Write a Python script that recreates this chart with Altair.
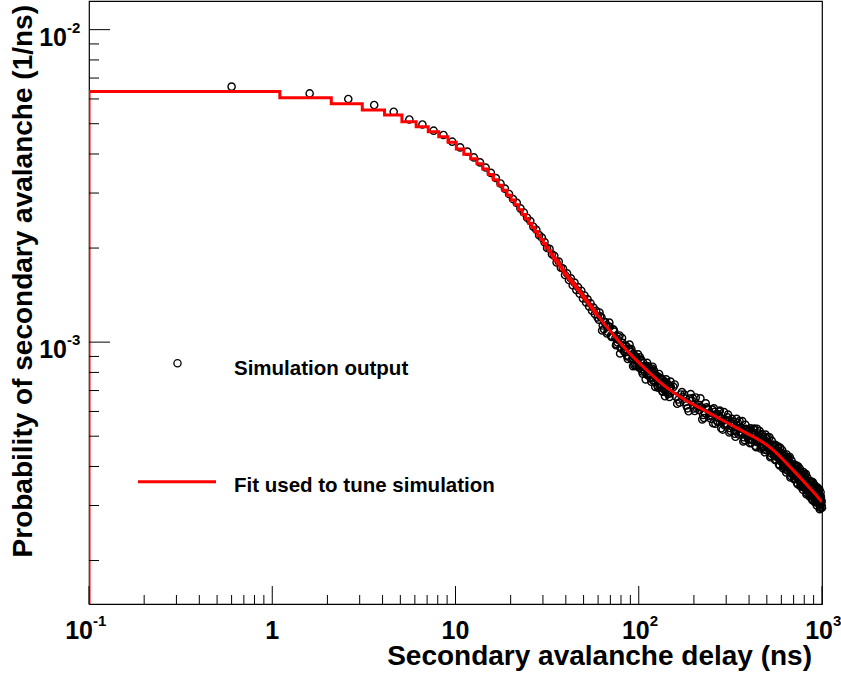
import altair as alt
import pandas as pd

# ---------------- data (probabilities in units of 1e-4 per ns) ----------------
sim_x = [0.6, 1.6, 2.6, 3.6, 4.6, 5.6, 6.6, 7.6, 8.6, 9.6,
         10.6, 11.6, 12.6, 13.6, 14.6, 15.6, 16.6, 17.6, 18.6, 19.6,
         20.6, 21.6, 22.6, 23.6, 24.6, 25.6, 26.6, 27.6, 28.6, 29.6,
         30.6, 31.6, 32.6, 33.6, 34.6, 35.6, 36.6, 37.6, 38.6, 39.6,
         40.6, 41.6, 42.6, 43.6, 44.6, 45.6, 46.6, 47.6, 48.6, 49.6,
         50.6, 51.6, 52.6, 53.6, 54.6, 55.6, 56.6, 57.6, 58.6, 59.6,
         61.6, 63.6, 65.6, 67.6, 69.6, 71.6, 73.6, 75.6, 77.6, 79.6,
         81.6, 83.6, 85.6, 87.6, 89.6, 91.6, 93.6, 95.6, 97.6, 99.6,
         101.6, 103.6, 105.6, 107.6, 109.6, 111.6, 113.6, 115.6, 117.6, 119.6,
         121.6, 123.6, 125.6, 127.6, 129.6, 131.6, 133.6, 135.6, 137.6, 139.6,
         141.6, 143.6, 145.6, 147.6, 149.6,
         154.6, 164.6, 174.6, 184.6, 194.6, 204.6, 214.6, 224.6, 234.6, 244.6,
         254.6, 264.6, 274.6, 284.6, 294.6, 304.6, 314.6, 324.6, 334.6, 344.6,
         354.6, 364.6, 374.6, 384.6, 394.6, 404.6, 414.6, 424.6, 434.6, 444.6,
         454.6, 464.6, 474.6, 484.6, 494.6, 504.6, 514.6, 524.6, 534.6, 544.6,
         554.6, 564.6, 574.6, 584.6, 594.6, 604.6, 614.6, 624.6, 634.6, 644.6,
         654.6, 664.6, 674.6, 684.6, 694.6, 704.6, 714.6, 724.6, 734.6, 744.6,
         754.6, 764.6, 774.6, 784.6, 794.6, 804.6, 814.6, 824.6, 834.6, 844.6,
         854.6, 864.6, 874.6, 884.6, 894.6, 904.6, 914.6, 924.6, 934.6, 944.6,
         954.6, 964.6, 974.6, 984.6, 994.6, 999.6]
sim_y = [65.7, 62.5, 60.0, 57.4, 54.6, 51.6, 49.7, 47.5, 46.0, 43.8,
         42.0, 40.7, 39.0, 37.6, 36.2, 34.8, 33.5, 32.2, 31.0, 29.8,
         28.7, 27.9, 26.8, 26.0, 25.0, 24.4, 23.4, 22.9, 22.0, 21.6,
         20.9, 20.0, 19.9, 19.1, 18.9, 18.0, 18.1, 17.3, 17.2, 16.4,
         16.6, 15.8, 16.0, 15.2, 15.5, 14.7, 15.0, 14.3, 14.6, 13.8,
         14.1, 13.4, 13.7, 13.0, 13.3, 12.6, 12.9, 12.3, 12.6, 12.0,
         12.1, 11.3, 11.6, 10.8, 11.2, 10.4, 10.8, 9.85, 10.4, 9.6,
         9.95, 9.3, 9.7, 9.05, 9.45, 8.8, 9.2, 8.55, 8.95, 8.4,
         8.95, 8.2, 8.6, 8.05, 8.4, 7.85, 8.25, 7.7, 8.1, 7.55,
         7.95, 7.45, 7.8, 7.15, 7.7, 7.2, 7.6, 7.1, 7.5, 7.0,
         7.4, 6.9, 7.3, 6.85, 7.2,
         7.19, 6.55, 6.66, 6.14, 6.50, 6.65, 6.06, 5.85, 6.19, 5.93,
         5.50, 5.89, 5.99, 5.58, 5.41, 5.75, 5.31, 5.46, 5.09, 5.42,
         5.59, 5.12, 4.96, 5.28, 5.08, 4.75, 5.12, 5.24, 4.91, 4.78,
         5.10, 4.71, 4.87, 4.53, 4.82, 4.97, 4.55, 4.42, 4.70, 4.51,
         4.20, 4.51, 4.59, 4.29, 4.16, 4.42, 4.07, 4.20, 3.91, 4.16,
         4.28, 3.93, 3.81, 4.06, 3.91, 3.64, 3.92, 3.99, 3.73, 3.63,
         3.86, 3.57, 3.69, 3.44, 3.66, 3.77, 3.46, 3.36, 3.57, 3.45,
         3.21, 3.47, 3.55, 3.32, 3.23, 3.43, 3.18, 3.29, 3.07, 3.27,
         3.38, 3.10, 3.01, 3.21, 3.10, 2.95]

sim2_x = [60.6, 62.6, 64.6, 66.6, 68.6, 70.6, 72.6, 74.6, 76.6, 78.6,
          80.6, 82.6, 84.6, 86.6, 88.6, 90.6, 92.6, 94.6, 96.6, 98.6,
          100.6, 102.6, 104.6, 106.6, 108.6, 110.6, 112.6, 114.6, 116.6, 118.6,
          120.6, 122.6, 124.6, 126.6, 128.6, 130.6, 132.6, 134.6, 136.6, 138.6,
          140.6, 142.6, 144.6, 146.6, 148.6]
sim2_y = [11.8, 12.0, 11.0, 11.3, 11.2, 10.5, 11.0, 10.3, 9.98, 10.5,
          9.52, 9.75, 9.51, 9.0, 9.52, 9.29, 8.89, 8.43, 8.95, 8.76,
          8.40, 8.73, 8.05, 8.38, 8.37, 7.89, 8.37, 7.89, 7.74, 8.22,
          7.53, 7.77, 7.62, 7.25, 7.71, 7.59, 7.32, 6.97, 7.44, 7.31,
          7.05, 7.35, 6.82, 7.13, 7.15]

sim3_x = [159.6, 169.6, 179.6, 189.6, 199.6, 209.6, 219.6, 229.6, 239.6, 249.6,
          259.6, 269.6, 279.6, 289.6, 299.6, 309.6, 319.6, 329.6, 339.6, 349.6,
          359.6, 369.6, 379.6, 389.6, 399.6, 409.6, 419.6, 429.6, 439.6, 449.6,
          459.6, 469.6, 479.6, 489.6, 499.6, 509.6, 519.6, 529.6, 539.6, 549.6,
          559.6, 569.6, 579.6, 589.6, 599.6, 609.6, 619.6, 629.6, 639.6, 649.6,
          659.6, 669.6, 679.6, 689.6, 699.6, 709.6, 719.6, 729.6, 739.6, 749.6,
          759.6, 769.6, 779.6, 789.6, 799.6, 809.6, 819.6, 829.6, 839.6, 849.6,
          859.6, 869.6, 879.6, 889.6, 899.6, 909.6, 919.6, 929.6, 939.6, 949.6,
          959.6, 969.6, 979.6, 989.6]
sim3_y = [6.69, 6.80, 6.44, 6.60, 6.13, 6.22, 6.19, 5.93, 6.09, 5.83,
          5.98, 5.56, 5.73, 5.61, 5.44, 5.61, 5.39, 5.54, 5.18, 5.29,
          5.29, 5.09, 5.25, 5.05, 5.21, 4.88, 5.05, 4.97, 4.84, 5.01,
          4.83, 4.99, 4.66, 4.75, 4.76, 4.57, 4.71, 4.53, 4.67, 4.36,
          4.48, 4.40, 4.26, 4.40, 4.23, 4.35, 4.05, 4.18, 4.10, 3.98,
          4.11, 3.95, 4.08, 3.80, 3.93, 3.86, 3.74, 3.87, 3.71, 3.83,
          3.58, 3.70, 3.63, 3.53, 3.64, 3.50, 3.62, 3.38, 3.49, 3.43,
          3.34, 3.46, 3.33, 3.44, 3.21, 3.32, 3.27, 3.18, 3.28, 3.17,
          3.27, 3.06, 3.16, 3.11]

sim4_x = [157.1, 167.1, 177.1, 187.1, 197.1, 207.1, 217.1, 227.1, 237.1, 247.1,
          257.1, 267.1, 277.1, 287.1, 297.1, 307.1, 317.1, 327.1, 337.1, 347.1,
          357.1, 367.1, 377.1, 387.1, 397.1, 407.1, 417.1, 427.1, 437.1, 447.1,
          457.1, 467.1, 477.1, 487.1, 497.1, 507.1, 517.1, 527.1, 537.1, 547.1,
          557.1, 567.1, 577.1, 587.1, 597.1, 607.1, 617.1, 627.1, 637.1, 647.1,
          657.1, 667.1, 677.1, 687.1, 697.1, 707.1, 717.1, 727.1, 737.1, 747.1,
          757.1, 767.1, 777.1, 787.1, 797.1, 807.1, 817.1, 827.1, 837.1, 847.1,
          857.1, 867.1, 877.1, 887.1, 897.1, 907.1, 917.1, 927.1, 937.1, 947.1,
          957.1, 967.1, 977.1, 987.1, 997.1]
sim4_y = [7.32, 6.41, 6.79, 6.01, 6.62, 6.14, 6.61, 5.72, 6.13, 5.69,
          6.14, 5.60, 6.04, 5.25, 5.64, 5.86, 5.20, 5.57, 4.98, 5.52,
          5.16, 5.59, 4.86, 5.23, 4.88, 5.30, 4.87, 5.29, 4.61, 4.98,
          5.19, 4.62, 4.96, 4.44, 4.92, 4.60, 4.96, 4.32, 4.65, 4.33,
          4.69, 4.29, 4.63, 4.03, 4.33, 4.51, 3.99, 4.28, 3.83, 4.24,
          3.96, 4.29, 3.73, 4.02, 3.75, 4.06, 3.72, 4.03, 3.51, 3.78,
          3.93, 3.50, 3.76, 3.37, 3.73, 3.49, 3.78, 3.29, 3.54, 3.31,
          3.59, 3.30, 3.58, 3.12, 3.36, 3.50, 3.12, 3.36, 3.00, 3.34,
          3.13, 3.38, 2.95, 3.18, 2.98]

sim5_x = [162.1, 172.1, 182.1, 192.1, 202.1, 212.1, 222.1, 232.1, 242.1, 252.1,
          262.1, 272.1, 282.1, 292.1, 302.1, 312.1, 322.1, 332.1, 342.1, 352.1,
          362.1, 372.1, 382.1, 392.1, 402.1, 412.1, 422.1, 432.1, 442.1, 452.1,
          462.1, 472.1, 482.1, 492.1, 502.1, 512.1, 522.1, 532.1, 542.1, 552.1,
          562.1, 572.1, 582.1, 592.1, 602.1, 612.1, 622.1, 632.1, 642.1, 652.1,
          662.1, 672.1, 682.1, 692.1, 702.1, 712.1, 722.1, 732.1, 742.1, 752.1,
          762.1, 772.1, 782.1, 792.1, 802.1, 812.1, 822.1, 832.1, 842.1, 852.1,
          862.1, 872.1, 882.1, 892.1, 902.1, 912.1, 922.1, 932.1, 942.1, 952.1,
          962.1, 972.1, 982.1, 992.1]
sim5_y = [6.35, 6.92, 6.27, 6.82, 6.02, 6.30, 5.66, 6.37, 5.81, 6.08,
          5.48, 5.87, 5.30, 5.97, 5.47, 5.14, 5.68, 5.20, 5.68, 5.06,
          5.32, 4.81, 5.44, 4.98, 5.25, 4.77, 5.14, 4.66, 5.28, 4.85,
          4.57, 5.06, 4.63, 5.06, 4.50, 4.73, 4.28, 4.83, 4.42, 4.65,
          4.20, 4.50, 4.07, 4.59, 4.21, 3.95, 4.37, 4.00, 4.37, 3.88,
          4.09, 3.69, 4.18, 3.83, 4.02, 3.65, 3.91, 3.54, 4.00, 3.67,
          3.46, 3.83, 3.51, 3.84, 3.42, 3.60, 3.26, 3.68, 3.38, 3.56,
          3.23, 3.48, 3.15, 3.56, 3.27, 3.08, 3.42, 3.13, 3.43, 3.06,
          3.22, 2.92, 3.31, 3.04]

sim6_x = [61.1, 63.1, 65.1, 67.1, 69.1, 71.1, 73.1, 75.1, 77.1, 79.1,
          81.1, 83.1, 85.1, 87.1, 89.1, 91.1, 93.1, 95.1, 97.1, 99.1,
          101.1, 103.1, 105.1, 107.1, 109.1, 111.1, 113.1, 115.1, 117.1, 119.1,
          121.1, 123.1, 125.1, 127.1, 129.1, 131.1, 133.1, 135.1, 137.1, 139.1,
          141.1, 143.1, 145.1, 147.1, 149.1]
sim6_y = [12.44, 10.90, 11.58, 10.66, 11.55, 10.38, 10.92, 9.77, 10.18, 9.20,
          10.31, 9.39, 9.72, 8.84, 9.82, 9.50, 8.38, 9.00, 8.37, 9.14,
          8.27, 8.78, 7.93, 8.34, 7.60, 8.58, 7.85, 8.17, 7.47, 8.34,
          8.11, 7.19, 7.73, 7.22, 7.91, 7.19, 7.65, 6.94, 7.33, 6.71,
          7.60, 6.98, 7.29, 6.68, 7.48]

# fitted function drawn as a 1 ns histogram (left bin edges and bin contents)
fit_step_x = [0.1, 1.1, 2.1, 3.1, 4.1, 5.1, 6.1, 7.1, 8.1, 9.1,
              10.1, 11.1, 12.1, 13.1, 14.1, 15.1, 16.1, 17.1, 18.1, 19.1,
              20.1, 21.1, 22.1, 23.1, 24.1, 25.1, 26.1, 27.1, 28.1, 29.1,
              30.1, 31.1, 32.1, 33.1, 34.1, 35.1, 36.1, 37.1, 38.1, 39.1,
              40.1, 41.1, 42.1, 43.1, 44.1, 45.1, 46.1, 47.1, 48.1, 49.1,
              50.1, 51.1, 52.1, 53.1, 54.1, 55.1, 56.1, 57.1, 58.1, 59.1]
fit_step_y = [63.4, 60.5, 57.9, 55.3, 53.3, 50.7, 48.9, 47.1, 45.4, 43.6,
              41.5, 39.9, 38.6, 37.2, 35.8, 34.4, 33.1, 31.8, 30.6, 29.5,
              28.5, 27.5, 26.5, 25.6, 24.8, 24.0, 23.3, 22.6, 21.9, 21.3,
              20.7, 20.1, 19.6, 19.1, 18.6, 18.2, 17.8, 17.4, 17.0, 16.6,
              16.3, 16.0, 15.75, 15.5, 15.25, 15.0, 14.75, 14.5, 14.3, 14.05,
              13.85, 13.65, 13.45, 13.25, 13.05, 12.85, 12.7, 12.5, 12.35, 12.2]
fit_x = [60.1, 62, 70, 80, 94, 110, 130, 150, 180, 217, 270, 330, 400,
         460, 520, 580, 650, 740, 831, 910, 1000]
fit_y = [12.2, 11.8, 10.85, 9.85, 8.90, 8.15, 7.45, 6.98, 6.50, 6.15, 5.73,
         5.38, 5.06, 4.85, 4.62, 4.35, 4.06, 3.75, 3.48, 3.29, 3.08]

x_major = [0.1, 1, 10, 100, 1000]
x_minor = [0.2, 0.3, 0.4, 0.5, 0.6, 0.7, 0.8, 0.9,
           2, 3, 4, 5, 6, 7, 8, 9,
           20, 30, 40, 50, 60, 70, 80, 90,
           200, 300, 400, 500, 600, 700, 800, 900]
y_major = [0.001, 0.01]
y_minor = [0.0002, 0.0003, 0.0004, 0.0005, 0.0006, 0.0007, 0.0008, 0.0009,
           0.002, 0.003, 0.004, 0.005, 0.006, 0.007, 0.008, 0.009]
x_label_val = [0.1, 1, 10, 100, 1000]
x_label_base = ["10", "1", "10", "10", "10"]
x_label_sup = ["-1", "", "", "2", "3"]
y_label_val = [0.001, 0.01]
y_label_base = ["10", "10"]
y_label_sup = ["-3", "-2"]

x_title = "Secondary avalanche delay (ns)"
y_title = "Probability of secondary avalanche (1/ns)"
legend_labels = ["Simulation output", "Fit used to tune simulation"]

# ---------------- layout ----------------
W, H = 733, 603
Y_MIN, Y_MAX = 1.452e-4, 1.235e-2
FONT = "Liberation Sans"
RED = "#ff0000"
xs = alt.Scale(type="log", domain=[0.1, 1000])
ys = alt.Scale(type="log", domain=[Y_MIN, Y_MAX])

all_x = sim_x + sim2_x + sim3_x + sim4_x + sim5_x + sim6_x
all_y = sim_y + sim2_y + sim3_y + sim4_y + sim5_y + sim6_y
sim = pd.DataFrame({"x": all_x, "y": [v * 1e-4 for v in all_y]})

sx = [0.1] + fit_step_x + [60.1]
sy = [Y_MIN] + [v * 1e-4 for v in fit_step_y] + [fit_step_y[-1] * 1e-4]
step = pd.DataFrame({"x": sx, "y": sy, "i": list(range(len(sx)))})
smooth = pd.DataFrame({"x": fit_x, "y": [v * 1e-4 for v in fit_y]})

X = lambda: alt.X("x:Q", scale=xs, axis=None)
Y = lambda: alt.Y("y:Q", scale=ys, axis=None)

points = alt.Chart(sim).mark_point(
    shape="circle", filled=False, color="black", strokeWidth=1.4, size=52, opacity=1
).encode(x=X(), y=Y())

step_line = alt.Chart(step).mark_line(
    color=RED, strokeWidth=3, interpolate="step-after", clip=True
).encode(x=X(), y=Y(), order=alt.Order("i:Q"))

smooth_line = alt.Chart(smooth).mark_line(
    color=RED, strokeWidth=3, interpolate="basis", clip=True
).encode(x=X(), y=Y())

# inward ticks
def xticks(vals, length):
    return alt.Chart(pd.DataFrame({"x": vals})).mark_rule(color="black", strokeWidth=1).encode(
        x=X(), y=alt.value(H), y2=alt.value(H - length))

def yticks(vals, length):
    return alt.Chart(pd.DataFrame({"y": vals})).mark_rule(color="black", strokeWidth=1).encode(
        y=Y(), x=alt.value(0), x2=alt.value(length))

# tick labels
xl = pd.DataFrame({"x": x_label_val, "base": x_label_base, "sup": x_label_sup})
xl_plain = xl[xl["sup"] == ""]
xl_neg = xl[xl["sup"].str.startswith("-")]
xl_pos = xl[(xl["sup"] != "") & (~xl["sup"].str.startswith("-"))]

LBL = 25
SUP = 15
XB = H + 35  # baseline of x labels

def xtext(df, col, align, dx, size, ybase):
    return alt.Chart(df).mark_text(
        font=FONT, fontWeight="bold", fontSize=size, align=align, baseline="alphabetic",
        dx=dx, color="black"
    ).encode(x=X(), y=alt.value(ybase), text=f"{col}:N")

xlabels = [
    xtext(xl_plain, "base", "center", 0, LBL, XB),
    xtext(xl_neg, "base", "right", 4, LBL, XB),
    xtext(xl_neg, "sup", "left", 4, SUP, XB - 13),
    xtext(xl_pos, "base", "right", 11, LBL, XB),
    xtext(xl_pos, "sup", "left", 11, SUP, XB - 13),
]

yl = pd.DataFrame({"y": y_label_val, "base": y_label_base, "sup": y_label_sup})
ylabels = [
    alt.Chart(yl).mark_text(font=FONT, fontWeight="bold", fontSize=LBL, align="right",
                            baseline="alphabetic", dy=16, color="black").encode(
        y=Y(), x=alt.value(-22), text="base:N"),
    alt.Chart(yl).mark_text(font=FONT, fontWeight="bold", fontSize=SUP, align="left",
                            baseline="alphabetic", dy=3, color="black").encode(
        y=Y(), x=alt.value(-22), text="sup:N"),
]

xtitle = alt.Chart(pd.DataFrame({"t": [x_title]})).mark_text(
    font=FONT, fontWeight="bold", fontSize=28, align="right", baseline="alphabetic", color="black"
).encode(x=alt.value(723), y=alt.value(664), text="t:N")
ytitle = alt.Chart(pd.DataFrame({"t": [y_title]})).mark_text(
    font=FONT, fontWeight="bold", fontSize=28, align="right", baseline="alphabetic",
    angle=270, color="black"
).encode(x=alt.value(-57), y=alt.value(4), text="t:N")

# legend
leg_pt = alt.Chart(pd.DataFrame({"a": [0]})).mark_point(
    shape="circle", filled=False, color="black", strokeWidth=1.3, size=52, opacity=1
).encode(x=alt.value(88.5), y=alt.value(362.3))
leg_line = alt.Chart(pd.DataFrame({"a": [0]})).mark_rule(color=RED, strokeWidth=3).encode(
    x=alt.value(49), x2=alt.value(127), y=alt.value(480.7))
leg_text = alt.Chart(pd.DataFrame({"t": legend_labels, "yy": [373.5, 490.5]})).mark_text(
    font=FONT, fontWeight="bold", fontSize=20.5, align="left", baseline="alphabetic", color="black"
).encode(x=alt.value(145), y=alt.Y("yy:Q", scale=None, axis=None), text="t:N")

chart = alt.layer(
    points, step_line, smooth_line,
    xticks(x_major, 18), xticks(x_minor, 9),
    yticks(y_major, 21), yticks(y_minor, 10),
    *xlabels, *ylabels, xtitle, ytitle,
    leg_pt, leg_line, leg_text,
).properties(
    width=W, height=H,
    autosize=alt.AutoSizeParams(type="none"),
    padding={"left": 89, "top": 1, "right": 19, "bottom": 73},
    background="white",
).configure_view(stroke="black", strokeWidth=1.2)

chart.save("out.html", embed_options={"renderer": "svg", "actions": False})
